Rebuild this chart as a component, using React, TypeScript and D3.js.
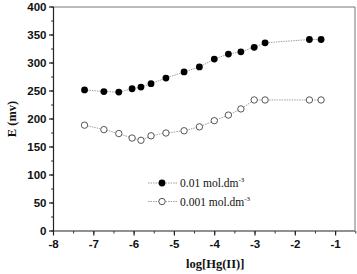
import React from "react";
import * as d3 from "d3";

const xValues = [-7.23, -6.75, -6.38, -6.05, -5.83, -5.58, -5.21, -4.76, -4.38, -4.01, -3.66, -3.35, -3.02, -2.75, -1.65, -1.36];
const series001 = [252, 249, 248, 254, 257, 263, 273, 284, 293, 307, 316, 320, 328, 336, 342, 342];
const series0001 = [189, 181, 174, 166, 162, 170, 175, 179, 186, 197, 207, 218, 234, 234, 234, 234];
const xTicks = [-8, -7, -6, -5, -4, -3, -2, -1];
const yTicks = [0, 50, 100, 150, 200, 250, 300, 350, 400];
const legendLabels = ["0.01 mol.dm", "0.001 mol.dm"];

const W = 357, H = 274;
const left = 53.5, right = 355, top = 7, bottom = 231;

export default function App() {
  const x = d3.scaleLinear().domain([-8, -0.5]).range([left, left + 7.5 * 40.3]);
  const y = d3.scaleLinear().domain([0, 400]).range([bottom, top]);
  const line = d3.line<number>().x((_, i) => x(xValues[i])).y((d) => y(d));
  const xMinor = d3.range(-8, -0.4, 0.5);
  const yMinor = d3.range(0, 401, 25);
  const tickFont = "'Liberation Sans', Arial, sans-serif";
  const serif = "'Liberation Serif', 'Times New Roman', serif";

  return (
    <svg width={W} height={H} style={{ position: "absolute", left: 0, top: 0, background: "#fff" }}>
      {/* frame */}
      <line x1={left} x2={right} y1={top} y2={top} stroke="#777" strokeWidth={1} />
      <line x1={right} x2={right} y1={top} y2={bottom} stroke="#777" strokeWidth={1} />
      <line x1={left} x2={left} y1={top} y2={bottom} stroke="#222" strokeWidth={1.2} />
      <line x1={left} x2={right} y1={bottom} y2={bottom} stroke="#222" strokeWidth={1.2} />
      {/* minor ticks */}
      {xMinor.map((t) => (
        <line key={"xm" + t} x1={x(t)} x2={x(t)} y1={bottom} y2={bottom + 2.5} stroke="#333" />
      ))}
      {yMinor.map((t) => (
        <line key={"ym" + t} x1={left - 2.5} x2={left} y1={y(t)} y2={y(t)} stroke="#333" />
      ))}
      {/* major ticks */}
      {xTicks.map((t) => (
        <g key={"x" + t}>
          <line x1={x(t)} x2={x(t)} y1={bottom} y2={bottom + 4.5} stroke="#222" strokeWidth={1.2} />
          <text x={x(t)} y={bottom + 17} textAnchor="middle" fontFamily={tickFont} fontWeight="bold" fontSize={11.5} fill="#111">
            {t}
          </text>
        </g>
      ))}
      {yTicks.map((t) => (
        <g key={"y" + t}>
          <line x1={left - 4.5} x2={left} y1={y(t)} y2={y(t)} stroke="#222" strokeWidth={1.2} />
          <text x={left - 7} y={y(t) + 4} textAnchor="end" fontFamily={tickFont} fontWeight="bold" fontSize={11.5} fill="#111">
            {t}
          </text>
        </g>
      ))}
      {/* axis titles */}
      <text x={(left + right) / 2 + 11} y={268} textAnchor="middle" fontFamily={serif} fontWeight="bold" fontSize={12.5} fill="#111">
        log[Hg(II)]
      </text>
      <text transform={`translate(16,${119}) rotate(-90)`} textAnchor="middle" fontFamily={serif} fontWeight="bold" fontSize={12.5} fill="#111">
        E (mv)
      </text>
      {/* lines */}
      <path d={line(series001) || ""} fill="none" stroke="#888" strokeWidth={0.8} strokeDasharray="1.5,1" />
      <path d={line(series0001) || ""} fill="none" stroke="#888" strokeWidth={0.8} strokeDasharray="1.5,1" />
      {series001.map((v, i) => (
        <circle key={"a" + i} cx={x(xValues[i])} cy={y(v)} r={3.4} fill="#000" />
      ))}
      {series0001.map((v, i) => (
        <circle key={"b" + i} cx={x(xValues[i])} cy={y(v)} r={3.2} fill="#fff" stroke="#444" strokeWidth={0.9} />
      ))}
      {/* legend */}
      {legendLabels.map((lab, i) => {
        const ly = 183 + i * 18.5;
        return (
          <g key={"l" + i}>
            <line x1={148} x2={177} y1={ly} y2={ly} stroke="#888" strokeWidth={0.8} strokeDasharray="1.5,1" />
            {i === 0 ? (
              <circle cx={162} cy={ly} r={3.4} fill="#000" />
            ) : (
              <circle cx={162} cy={ly} r={3.2} fill="#fff" stroke="#444" strokeWidth={0.9} />
            )}
            <text x={180} y={ly + 4} fontFamily={serif} fontSize={11.5} fill="#111">
              {lab}
              <tspan dy={-5} fontSize={7}>-3</tspan>
            </text>
          </g>
        );
      })}
    </svg>
  );
}
